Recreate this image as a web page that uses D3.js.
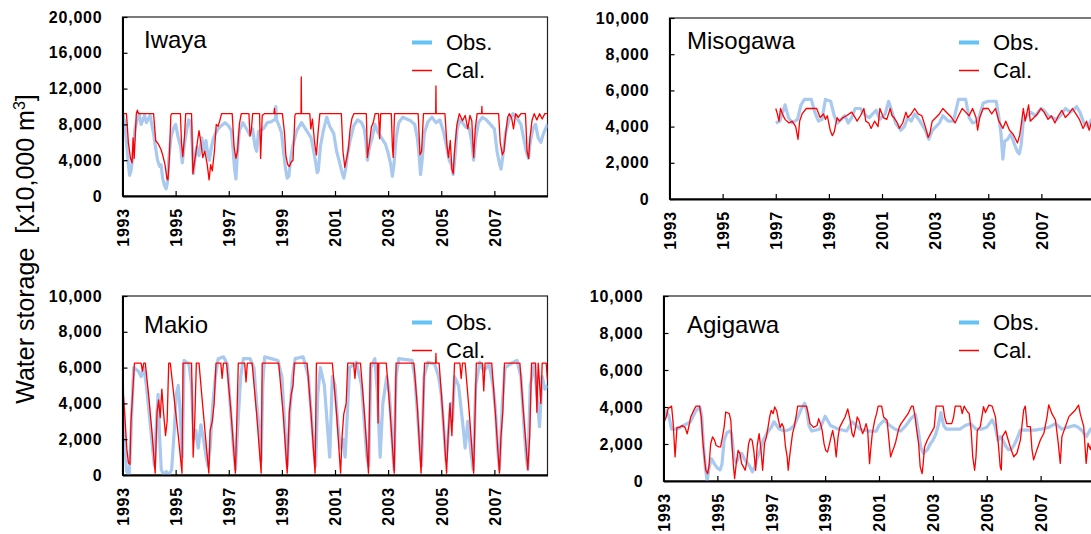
<!DOCTYPE html>
<html>
<head>
<meta charset="utf-8">
<script src="https://cdn.jsdelivr.net/npm/d3@7"></script>
<style>
  body { margin: 0; background: #fff; }
  svg { display: block; font-family: "Liberation Sans", Arial, Helvetica, sans-serif; }
  .tick text { font-weight: bold; font-size: 16px; letter-spacing: 0.8px; fill: #000; }
  .tick line { stroke: #000; stroke-width: 1.2px; }
  .domain { stroke: #000; stroke-width: 2px; }
</style>
</head>
<body>
<svg id="chart" width="1091" height="534"></svg>
<script>
// ---- axis tick values ----
const yearTicks = [1993, 1995, 1997, 1999, 2001, 2003, 2005, 2007];
const iwayaTicks = [0, 4000, 8000, 12000, 16000, 20000];
const smallTicks = [0, 2000, 4000, 6000, 8000, 10000];

// ---- series: [decimal year, storage (x10,000 m3)] ----
const iwayaObs = [[1993.0,9300],[1993.08,8300],[1993.15,6000],[1993.22,3500],[1993.27,2300],[1993.32,2800],[1993.39,4500],[1993.47,7500],[1993.55,8500],[1993.63,9200],[1993.7,8000],[1993.77,8500],[1993.83,9000],[1993.9,8200],[1993.97,8600],[1994.04,9000],[1994.1,8000],[1994.17,7000],[1994.24,5500],[1994.32,4000],[1994.4,3300],[1994.45,3500],[1994.51,2000],[1994.58,1200],[1994.64,800],[1994.69,1500],[1994.74,4000],[1994.82,6500],[1994.91,7500],[1995.0,8000],[1995.1,6500],[1995.19,5500],[1995.25,3700],[1995.32,5500],[1995.41,7300],[1995.49,8500],[1995.57,8300],[1995.63,5500],[1995.67,2500],[1995.72,4000],[1995.8,5500],[1995.88,4500],[1995.98,6500],[1996.06,5000],[1996.14,6200],[1996.22,4500],[1996.27,4000],[1996.35,5500],[1996.43,6500],[1996.5,7000],[1996.6,7500],[1996.7,7800],[1996.86,8200],[1997.0,7800],[1997.1,7300],[1997.17,5000],[1997.22,3000],[1997.27,1900],[1997.32,4500],[1997.4,7300],[1997.53,8200],[1997.65,7600],[1997.8,6800],[1997.9,7500],[1997.99,5500],[1998.05,5000],[1998.12,7200],[1998.3,7500],[1998.45,8200],[1998.6,8300],[1998.76,8600],[1998.77,10000],[1998.8,8500],[1998.9,7800],[1998.99,7000],[1999.06,5000],[1999.14,3000],[1999.2,2000],[1999.26,2200],[1999.32,3800],[1999.4,5500],[1999.56,7300],[1999.74,8200],[1999.93,7300],[2000.1,6500],[2000.2,5000],[2000.28,3600],[2000.33,2600],[2000.37,2800],[2000.45,5500],[2000.56,7300],[2000.69,8800],[2000.8,7800],[2000.95,7000],[2001.06,5000],[2001.15,4000],[2001.25,2800],[2001.33,2000],[2001.4,3000],[2001.47,4600],[2001.57,6200],[2001.7,7800],[2001.85,8500],[2002.0,8200],[2002.1,7500],[2002.17,6000],[2002.22,4000],[2002.3,5500],[2002.4,6500],[2002.5,8000],[2002.6,7200],[2002.75,6500],[2002.9,5800],[2003.0,4800],[2003.1,3500],[2003.16,2200],[2003.22,3500],[2003.3,6500],[2003.4,8200],[2003.55,8800],[2003.7,8600],[2003.85,8400],[2004.0,8000],[2004.1,6500],[2004.17,4500],[2004.22,2400],[2004.28,4000],[2004.36,7000],[2004.5,8300],[2004.65,8800],[2004.8,8200],[2004.95,8500],[2005.1,7000],[2005.2,5500],[2005.3,4000],[2005.38,3500],[2005.45,2400],[2005.52,4500],[2005.6,7500],[2005.7,8500],[2005.8,8200],[2005.92,7700],[2006.05,7600],[2006.15,6000],[2006.22,4000],[2006.3,6500],[2006.4,8200],[2006.55,8800],[2006.7,8500],[2006.85,8000],[2007.0,7500],[2007.1,5000],[2007.2,3500],[2007.25,3000],[2007.32,4500],[2007.42,7000],[2007.55,8500],[2007.7,9200],[2007.85,8700],[2008.0,8000],[2008.1,6500],[2008.2,5000],[2008.28,4200],[2008.35,6000],[2008.45,7500],[2008.55,8000],[2008.65,6500],[2008.75,6000],[2008.85,7000],[2009.0,8000]];

const iwayaCal = [[1993.0,9200],[1993.15,9200],[1993.22,6000],[1993.3,4200],[1993.36,3700],[1993.4,6500],[1993.44,4200],[1993.52,9200],[1993.56,9600],[1993.6,9200],[1994.17,9200],[1994.25,6200],[1994.35,5800],[1994.45,5200],[1994.52,4500],[1994.6,3500],[1994.67,2000],[1994.71,1800],[1994.76,4000],[1994.82,9000],[1994.85,9200],[1995.18,9200],[1995.22,6000],[1995.27,4400],[1995.33,6500],[1995.38,9200],[1995.6,9200],[1995.65,2500],[1995.72,4000],[1995.8,5600],[1995.88,7300],[1995.95,6000],[1996.02,4300],[1996.1,5000],[1996.19,3500],[1996.26,1800],[1996.32,3500],[1996.38,2800],[1996.46,5000],[1996.53,8000],[1996.6,7800],[1996.66,8400],[1996.73,9200],[1997.13,9200],[1997.2,5500],[1997.27,4200],[1997.33,5000],[1997.4,8000],[1997.47,9200],[1997.76,9200],[1997.8,6700],[1997.85,7300],[1997.9,9200],[1998.16,9200],[1998.2,4200],[1998.26,9000],[1998.34,9200],[1998.7,9200],[1998.72,9800],[1998.74,9200],[1999.02,9200],[1999.1,7000],[1999.15,4500],[1999.22,3500],[1999.28,3300],[1999.35,3800],[1999.42,4000],[1999.49,9000],[1999.52,9200],[1999.72,9200],[1999.73,13300],[1999.74,9200],[2000.05,9200],[2000.09,7500],[2000.15,8600],[2000.23,6000],[2000.3,4600],[2000.36,7000],[2000.43,9200],[2001.24,9200],[2001.3,5000],[2001.37,3200],[2001.44,4200],[2001.5,5200],[2001.57,7500],[2001.64,8700],[2001.71,9200],[2002.18,9200],[2002.22,4300],[2002.3,6000],[2002.37,7700],[2002.44,8200],[2002.51,9200],[2002.64,9200],[2002.68,6400],[2002.72,9200],[2003.12,9200],[2003.16,5500],[2003.19,4300],[2003.24,9200],[2004.13,9200],[2004.2,4600],[2004.26,5000],[2004.33,9200],[2004.79,9200],[2004.8,12300],[2004.81,9200],[2005.14,9200],[2005.21,5800],[2005.27,4300],[2005.34,6200],[2005.4,3000],[2005.45,2500],[2005.5,5000],[2005.59,8000],[2005.68,9200],[2005.8,8400],[2005.9,9000],[2006.0,7500],[2006.08,9000],[2006.15,8400],[2006.22,4300],[2006.28,7500],[2006.35,9200],[2006.52,9200],[2006.53,10000],[2006.54,9200],[2007.16,9200],[2007.22,6000],[2007.3,4600],[2007.36,5000],[2007.42,6800],[2007.5,8800],[2007.56,9200],[2007.65,8700],[2007.72,7500],[2007.8,9200],[2007.9,8800],[2008.0,9200],[2008.17,9200],[2008.23,5000],[2008.29,4200],[2008.34,6500],[2008.42,8500],[2008.5,9200],[2008.6,8500],[2008.7,9200],[2008.8,8600],[2008.9,9200],[2009.0,9200]];

const misogawaObs = [[1997.0,4200],[1997.15,4300],[1997.35,5200],[1997.48,4500],[1997.62,4200],[1997.82,4400],[1997.95,5200],[1998.08,5500],[1998.34,5500],[1998.47,4800],[1998.61,4300],[1998.74,4400],[1998.87,5500],[1999.07,5400],[1999.2,4600],[1999.33,4200],[1999.46,4400],[1999.6,4600],[1999.73,4200],[1999.86,4500],[1999.99,5000],[2000.19,5000],[2000.39,4600],[2000.52,4500],[2000.65,4700],[2000.78,4900],[2000.92,4400],[2001.12,4700],[2001.25,5400],[2001.38,4800],[2001.51,4200],[2001.71,3800],[2001.84,4000],[2001.97,4500],[2002.1,4300],[2002.23,4700],[2002.43,4300],[2002.63,3800],[2002.76,3300],[2002.9,3800],[2003.03,4000],[2003.16,4200],[2003.29,4600],[2003.49,4300],[2003.69,4300],[2003.88,5500],[2004.15,5500],[2004.28,4500],[2004.41,4200],[2004.61,4300],[2004.81,5300],[2005.0,5400],[2005.3,5400],[2005.4,4500],[2005.48,3600],[2005.55,2200],[2005.62,3200],[2005.73,3300],[2005.85,3600],[2005.99,3000],[2006.1,2600],[2006.17,2500],[2006.24,3000],[2006.32,4300],[2006.45,4600],[2006.59,4800],[2006.78,4600],[2006.98,5000],[2007.1,4900],[2007.25,4600],[2007.38,4500],[2007.58,4400],[2007.77,4700],[2007.9,5000],[2008.1,4800],[2008.33,5100],[2008.45,4800],[2008.6,4200],[2008.75,4000],[2008.9,4400],[2009.0,4300]];

const misogawaCal = [[1997.0,5000],[1997.06,4700],[1997.12,4300],[1997.18,5000],[1997.25,4700],[1997.35,4400],[1997.5,4200],[1997.62,4300],[1997.75,4000],[1997.84,3300],[1997.9,4300],[1997.99,4700],[1998.15,5000],[1998.54,5000],[1998.67,4500],[1998.8,4700],[1998.87,4400],[1998.94,4600],[1999.05,3800],[1999.13,3500],[1999.2,3700],[1999.31,4500],[1999.4,4300],[1999.53,4500],[1999.66,4600],[1999.86,4800],[1999.99,4500],[2000.06,4300],[2000.19,4600],[2000.32,5000],[2000.39,4300],[2000.5,4200],[2000.59,3900],[2000.72,4300],[2000.85,4000],[2000.92,5000],[2001.05,4500],[2001.18,4400],[2001.31,5000],[2001.38,4600],[2001.45,4500],[2001.58,4200],[2001.65,3900],[2001.78,4200],[2001.9,4800],[2001.97,4500],[2002.1,4700],[2002.23,5000],[2002.36,4700],[2002.5,4600],[2002.63,4000],[2002.74,3400],[2002.8,3600],[2002.89,4300],[2003.03,4500],[2003.16,4700],[2003.29,5000],[2003.49,4700],[2003.62,4500],[2003.75,4200],[2003.88,4600],[2004.02,5000],[2004.15,4800],[2004.28,4600],[2004.41,5000],[2004.54,4500],[2004.6,3800],[2004.68,4500],[2004.81,5000],[2005.0,5000],[2005.13,4700],[2005.27,5000],[2005.4,4300],[2005.55,3900],[2005.66,4300],[2005.8,3800],[2005.93,3600],[2006.0,3400],[2006.1,3100],[2006.18,3500],[2006.26,4300],[2006.32,5000],[2006.39,4300],[2006.52,5200],[2006.58,4300],[2006.72,4500],[2006.85,4700],[2006.98,5000],[2007.1,4800],[2007.25,4400],[2007.38,4600],[2007.51,4200],[2007.64,4600],[2007.77,4900],[2007.9,4500],[2008.03,4700],[2008.17,5000],[2008.3,4700],[2008.43,4400],[2008.57,3900],[2008.7,4300],[2008.8,3800],[2008.9,4300],[2009.0,4200]];

const makioObs = [[1993.0,5000],[1993.05,3000],[1993.1,1500],[1993.15,200],[1993.25,0],[1993.3,1500],[1993.35,3500],[1993.42,6000],[1993.6,5800],[1993.7,5500],[1993.8,6000],[1993.9,5000],[1994.0,3500],[1994.1,2000],[1994.2,500],[1994.28,3000],[1994.34,4500],[1994.4,2000],[1994.46,300],[1994.55,0],[1994.65,200],[1994.75,0],[1994.85,300],[1994.95,2500],[1995.02,4500],[1995.1,5000],[1995.17,3500],[1995.25,1000],[1995.32,6400],[1995.5,6200],[1995.6,5000],[1995.68,2000],[1995.76,2500],[1995.85,1500],[1995.95,2800],[1996.05,2000],[1996.15,1000],[1996.22,500],[1996.3,1500],[1996.4,4000],[1996.5,5500],[1996.6,6500],[1996.8,6600],[1996.95,6200],[1997.05,4000],[1997.15,2000],[1997.25,300],[1997.35,3000],[1997.45,5500],[1997.55,6500],[1997.8,6500],[1997.95,6000],[1998.05,4000],[1998.15,2500],[1998.22,800],[1998.28,5000],[1998.35,6600],[1998.6,6500],[1998.85,6400],[1999.0,5500],[1999.1,3000],[1999.2,500],[1999.3,3500],[1999.4,5500],[1999.5,6500],[1999.8,6600],[2000.0,5500],[2000.1,3500],[2000.2,1500],[2000.27,500],[2000.35,4500],[2000.45,6000],[2000.6,5000],[2000.7,3000],[2000.8,1000],[2000.9,5500],[2001.0,5000],[2001.1,3000],[2001.2,1500],[2001.3,2000],[2001.38,1000],[2001.45,3000],[2001.55,6000],[2001.8,6300],[2002.0,5000],[2002.1,3000],[2002.2,1000],[2002.27,500],[2002.35,6000],[2002.5,6500],[2002.6,4500],[2002.7,1000],[2002.8,4000],[2002.95,5500],[2003.05,4500],[2003.15,2000],[2003.22,300],[2003.3,5500],[2003.4,6500],[2003.9,6400],[2004.0,5500],[2004.1,3500],[2004.2,1500],[2004.26,500],[2004.35,5500],[2004.5,6300],[2004.75,6200],[2004.9,5500],[2005.0,4500],[2005.1,2500],[2005.18,800],[2005.25,2000],[2005.35,4000],[2005.42,3000],[2005.5,5500],[2005.65,5000],[2005.8,3000],[2005.9,1500],[2006.0,3000],[2006.1,1500],[2006.2,300],[2006.3,5000],[2006.45,6300],[2006.6,5800],[2006.8,6200],[2006.95,5000],[2007.05,3500],[2007.12,1500],[2007.19,300],[2007.3,4000],[2007.4,6000],[2007.6,6200],[2007.85,6400],[2008.0,5500],[2008.1,3000],[2008.2,1000],[2008.26,300],[2008.35,5000],[2008.5,6200],[2008.6,4500],[2008.7,2700],[2008.8,5500],[2008.9,4800],[2009.0,5000]];

const makioCal = [[1993.0,5200],[1993.08,3500],[1993.16,1500],[1993.22,700],[1993.28,600],[1993.32,3000],[1993.38,4500],[1993.45,6250],[1993.7,6250],[1993.75,5800],[1993.8,6250],[1993.86,6250],[1994.0,4200],[1994.12,2200],[1994.23,100],[1994.3,3500],[1994.36,4200],[1994.42,3200],[1994.48,4800],[1994.55,3400],[1994.62,2200],[1994.68,3000],[1994.74,6250],[1994.8,6250],[1994.95,4200],[1995.1,2200],[1995.24,100],[1995.28,6250],[1995.6,6250],[1995.66,1000],[1995.72,3000],[1995.78,6250],[1995.88,6250],[1996.0,4200],[1996.12,2200],[1996.25,100],[1996.3,2500],[1996.38,3000],[1996.45,4000],[1996.52,6250],[1996.7,6250],[1996.75,5400],[1996.8,6250],[1996.92,6250],[1997.08,3600],[1997.25,100],[1997.3,2900],[1997.36,6250],[1997.6,6250],[1997.65,5200],[1997.7,6250],[1997.88,6250],[1998.05,3400],[1998.22,100],[1998.26,6250],[1998.88,6250],[1999.05,3400],[1999.2,100],[1999.28,3500],[1999.35,4500],[1999.42,5000],[1999.47,6250],[1999.95,6250],[2000.1,3400],[2000.25,100],[2000.3,6250],[2000.9,6250],[2001.06,3400],[2001.21,100],[2001.27,2200],[2001.33,3400],[2001.42,4000],[2001.48,6250],[2001.7,6250],[2001.75,5400],[2001.8,6250],[2001.96,6250],[2002.11,3400],[2002.26,100],[2002.33,6250],[2002.6,6250],[2002.62,2900],[2002.65,6250],[2002.93,6250],[2003.08,3400],[2003.23,100],[2003.3,6250],[2003.97,6250],[2004.1,3800],[2004.24,100],[2004.3,2900],[2004.37,6250],[2004.79,6250],[2004.8,6800],[2004.81,6250],[2004.92,6250],[2005.06,3400],[2005.2,100],[2005.26,2200],[2005.33,4000],[2005.4,2200],[2005.5,6250],[2005.7,6250],[2005.75,5400],[2005.8,6250],[2005.9,6250],[2006.06,3400],[2006.22,100],[2006.32,6250],[2006.55,6250],[2006.6,4700],[2006.65,6250],[2006.9,6250],[2007.04,3400],[2007.19,100],[2007.25,2200],[2007.32,3600],[2007.38,6250],[2007.96,6250],[2008.1,3400],[2008.26,300],[2008.33,2200],[2008.4,6250],[2008.55,6250],[2008.6,3500],[2008.65,6250],[2008.75,4000],[2008.8,6250],[2008.95,6250],[2009.0,5300]];

const agigawaObs = [[1993.0,3300],[1993.1,3800],[1993.2,3500],[1993.3,2800],[1993.5,2800],[1993.75,3000],[1994.0,3200],[1994.2,3800],[1994.35,4000],[1994.42,3500],[1994.48,2000],[1994.55,800],[1994.62,0],[1994.7,800],[1994.78,1200],[1994.9,900],[1995.0,700],[1995.1,600],[1995.17,900],[1995.25,2200],[1995.35,2600],[1995.45,2700],[1995.52,2600],[1995.57,2000],[1995.62,1200],[1995.7,1000],[1995.8,1300],[1995.9,1500],[1996.0,1200],[1996.1,1000],[1996.2,800],[1996.3,500],[1996.4,800],[1996.47,1200],[1996.55,1500],[1996.7,2200],[1996.85,2600],[1997.0,2900],[1997.1,3200],[1997.2,3000],[1997.3,2800],[1997.5,2700],[1997.7,2800],[1997.85,3000],[1998.0,3500],[1998.15,4000],[1998.24,4200],[1998.32,3800],[1998.4,3000],[1998.5,2700],[1998.8,2800],[1999.0,3500],[1999.2,3000],[1999.5,2800],[1999.8,2700],[2000.0,3200],[2000.3,2800],[2000.6,2700],[2000.9,2700],[2001.0,3000],[2001.2,3300],[2001.4,3000],[2001.6,2800],[2001.8,2700],[2002.0,3000],[2002.2,3400],[2002.35,3600],[2002.45,2800],[2002.55,1800],[2002.65,1500],[2002.8,1700],[2002.9,2000],[2003.0,2200],[2003.1,2500],[2003.2,3000],[2003.3,3700],[2003.4,3000],[2003.5,2800],[2004.0,2800],[2004.2,3000],[2004.4,3100],[2004.6,2800],[2004.8,2800],[2005.0,2900],[2005.2,3300],[2005.3,3000],[2005.42,2200],[2005.5,2400],[2005.6,2200],[2005.7,1900],[2005.8,1700],[2005.9,1700],[2006.0,1900],[2006.1,2200],[2006.25,2750],[2006.5,2750],[2006.8,2750],[2007.0,2800],[2007.3,2900],[2007.55,3100],[2007.8,2800],[2008.0,2900],[2008.25,3000],[2008.4,2900],[2008.55,2700],[2008.7,2400],[2008.85,2800],[2009.0,2600]];

const agigawaCal = [[1993.0,3100],[1993.1,3460],[1993.17,3900],[1993.3,4050],[1993.36,3100],[1993.43,1300],[1993.5,2900],[1993.6,2900],[1993.69,3000],[1993.8,2900],[1993.88,2550],[1993.95,3000],[1994.01,3460],[1994.15,3900],[1994.21,4050],[1994.34,4050],[1994.4,3460],[1994.47,2000],[1994.53,1100],[1994.57,580],[1994.64,400],[1994.69,800],[1994.75,2000],[1994.82,2380],[1994.9,2200],[1994.95,1930],[1995.05,1840],[1995.12,1840],[1995.18,2300],[1995.25,2900],[1995.31,3730],[1995.44,3640],[1995.5,3280],[1995.54,2000],[1995.6,760],[1995.64,130],[1995.7,940],[1995.77,1660],[1995.84,1480],[1995.9,940],[1995.97,760],[1996.03,580],[1996.09,1030],[1996.16,2020],[1996.22,2290],[1996.29,2200],[1996.35,1660],[1996.42,580],[1996.48,1930],[1996.55,2560],[1996.62,1660],[1996.68,580],[1996.75,2020],[1996.82,2380],[1996.88,2900],[1996.94,3460],[1997.0,3820],[1997.07,3640],[1997.13,4000],[1997.2,3800],[1997.27,3280],[1997.33,2900],[1997.4,3100],[1997.46,2900],[1997.53,1840],[1997.59,1300],[1997.63,580],[1997.68,1300],[1997.79,2560],[1997.85,2900],[1997.92,3460],[1997.98,4050],[1998.31,4050],[1998.37,3640],[1998.44,3100],[1998.57,2900],[1998.7,3000],[1998.76,3370],[1998.83,3100],[1998.89,2740],[1998.96,2020],[1999.02,1660],[1999.09,1570],[1999.15,1930],[1999.22,2380],[1999.28,2740],[1999.35,2200],[1999.41,1300],[1999.48,2380],[1999.54,2900],[1999.61,3100],[1999.74,3460],[1999.84,3900],[1999.93,3280],[2000.0,2560],[2000.06,2380],[2000.13,2900],[2000.19,3460],[2000.26,3280],[2000.32,2900],[2000.39,2560],[2000.45,2740],[2000.52,3100],[2000.58,2740],[2000.65,940],[2000.69,1660],[2000.75,2560],[2000.84,3280],[2000.91,3640],[2000.97,4050],[2001.1,4050],[2001.17,3460],[2001.3,3280],[2001.36,2380],[2001.43,1300],[2001.49,1570],[2001.56,1840],[2001.62,2110],[2001.69,2560],[2001.75,2900],[2001.82,3100],[2001.95,3370],[2002.08,3640],[2002.21,4050],[2002.27,4050],[2002.34,3460],[2002.4,2740],[2002.47,2020],[2002.53,760],[2002.6,400],[2002.64,940],[2002.69,1840],[2002.79,2200],[2002.92,2560],[2003.05,2900],[2003.12,4050],[2003.38,4050],[2003.44,3460],[2003.51,3100],[2003.7,3100],[2003.77,3460],[2003.83,4050],[2004.03,4050],[2004.09,3640],[2004.16,4050],[2004.29,3730],[2004.35,3640],[2004.42,2740],[2004.48,1300],[2004.55,580],[2004.6,1300],[2004.65,2740],[2004.76,2940],[2004.88,4020],[2004.95,3700],[2005.08,4100],[2005.2,4050],[2005.32,3480],[2005.43,2000],[2005.5,770],[2005.54,590],[2005.58,2400],[2005.7,2700],[2005.8,2200],[2005.87,1850],[2006.0,1310],[2006.12,1500],[2006.25,2220],[2006.37,3840],[2006.43,4050],[2006.5,2940],[2006.62,2940],[2006.68,1680],[2006.74,1140],[2006.86,1680],[2006.99,2220],[2007.12,2580],[2007.24,3480],[2007.3,4120],[2007.42,3640],[2007.55,3300],[2007.65,2100],[2007.73,950],[2007.79,2400],[2007.92,2940],[2008.05,3480],[2008.17,3660],[2008.29,3840],[2008.41,4100],[2008.47,3640],[2008.6,2940],[2008.69,950],[2008.76,2040],[2008.85,1700],[2008.93,2200],[2009.0,2000]];

// ---- panel layout ----
const panels = [
  { name: "Iwaya",    obs: iwayaObs,    cal: iwayaCal,    yMax: 20000, ticks: iwayaTicks,
    x0: 122.5, x1: 547.5, yTop: 17, yBot: 196, titleX: 144, titleY: 48, legX: 412, legY: 42.5 },
  { name: "Misogawa", obs: misogawaObs, cal: misogawaCal, yMax: 10000, ticks: smallTicks,
    x0: 669.5, x1: 1094.5, yTop: 18, yBot: 199, titleX: 687, titleY: 49, legX: 959, legY: 42.5 },
  { name: "Makio",    obs: makioObs,    cal: makioCal,    yMax: 10000, ticks: smallTicks,
    x0: 122.5, x1: 547.5, yTop: 296, yBot: 475, titleX: 144, titleY: 333, legX: 412, legY: 322.5 },
  { name: "Agigawa",  obs: agigawaObs,  cal: agigawaCal,  yMax: 10000, ticks: smallTicks,
    x0: 663.5, x1: 1094.5, yTop: 296, yBot: 481, titleX: 687, titleY: 333, legX: 959, legY: 322.5 }
];

const svg = d3.select("#chart");
const fmt = d3.format(",");

panels.forEach((p, i) => {
  const x = d3.scaleLinear().domain([1993, 2009]).range([p.x0, p.x1]);
  const y = d3.scaleLinear().domain([0, p.yMax]).range([p.yBot, p.yTop]);
  const g = svg.append("g");

  const clipId = "clip" + i;
  svg.append("clipPath").attr("id", clipId)
    .append("rect")
    .attr("x", p.x0).attr("y", p.yTop)
    .attr("width", p.x1 - p.x0).attr("height", p.yBot - p.yTop);

  // frame
  g.append("rect")
    .attr("x", p.x0).attr("y", p.yTop)
    .attr("width", p.x1 - p.x0).attr("height", p.yBot - p.yTop)
    .attr("fill", "none").attr("stroke", "#222").attr("stroke-width", 1.2);

  const line = d3.line().x(d => x(d[0])).y(d => y(d[1]));
  const plot = g.append("g").attr("clip-path", `url(#${clipId})`);
  plot.append("path").datum(p.obs).attr("d", line)
    .attr("fill", "none").attr("stroke", "#a9c9ef").attr("stroke-width", 3.2)
    .attr("stroke-linejoin", "round");
  plot.append("path").datum(p.cal).attr("d", line)
    .attr("fill", "none").attr("stroke", "#ff0000").attr("stroke-width", 1.3)
    .attr("stroke-linejoin", "round");

  // y axis, ticks pointing inward
  g.append("g").attr("transform", `translate(${p.x0},0)`)
    .call(d3.axisLeft(y).tickValues(p.ticks).tickFormat(fmt)
      .tickSizeInner(-5).tickSizeOuter(0).tickPadding(20));

  // x axis, ticks pointing inward, labels rotated
  const xa = g.append("g").attr("transform", `translate(0,${p.yBot})`)
    .call(d3.axisBottom(x).tickValues(yearTicks).tickFormat(d3.format("d"))
      .tickSizeInner(-5).tickSizeOuter(0));
  xa.selectAll(".tick text")
    .attr("transform", "rotate(-90)")
    .attr("x", -12).attr("y", 0).attr("dy", "0.36em")
    .style("text-anchor", "end");

  // station name
  g.append("text").attr("x", p.titleX).attr("y", p.titleY)
    .attr("font-size", 24).text(p.name);

  // legend
  const lg = g.append("g");
  lg.append("line").attr("x1", p.legX).attr("x2", p.legX + 20)
    .attr("y1", p.legY).attr("y2", p.legY)
    .attr("stroke", "#63c3f3").attr("stroke-width", 4);
  lg.append("text").attr("x", p.legX + 34).attr("y", p.legY + 7.5)
    .attr("font-size", 22).text("Obs.");
  lg.append("line").attr("x1", p.legX).attr("x2", p.legX + 20)
    .attr("y1", p.legY + 28).attr("y2", p.legY + 28)
    .attr("stroke", "#ff0000").attr("stroke-width", 1.5);
  lg.append("text").attr("x", p.legX + 34).attr("y", p.legY + 35)
    .attr("font-size", 22).text("Cal.");
});

// shared y-axis title
const yTitle = svg.append("text")
  .attr("transform", "translate(34,249) rotate(-90)")
  .attr("text-anchor", "middle")
  .attr("font-size", 25)
  .style("white-space", "pre");
yTitle.append("tspan").text("Water storage\u00a0\u00a0[x10,000 m");
yTitle.append("tspan").attr("dy", -9).attr("font-size", 16).text("3");
yTitle.append("tspan").attr("dy", 9).text("]");
</script>
</body>
</html>
